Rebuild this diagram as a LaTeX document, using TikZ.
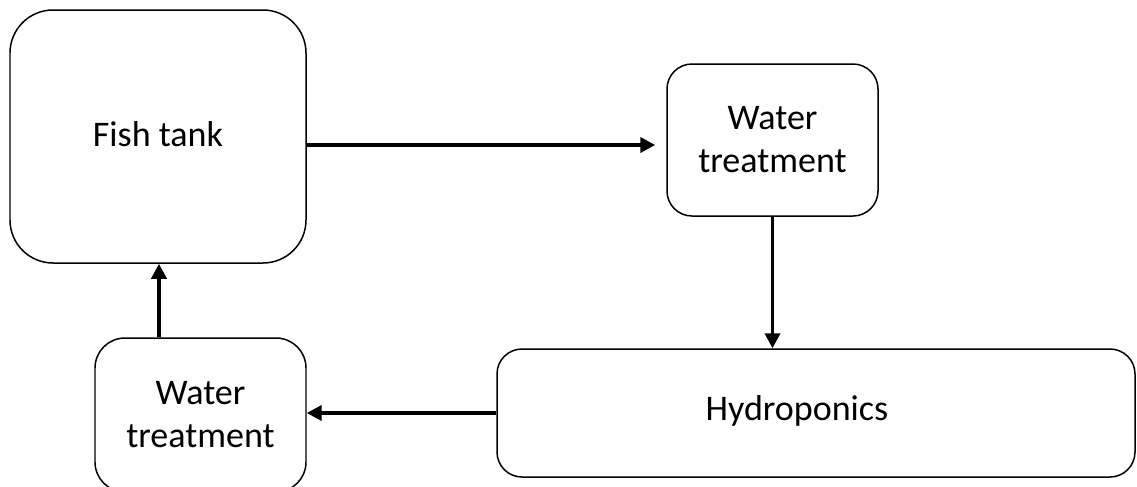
\documentclass[tikz,border=0pt]{standalone}
\usepackage{fontspec}
\setmainfont{Carlito}
\usetikzlibrary{calc, arrows.meta}

\tikzset{
  caja/.style={draw, line width=0.85pt, align=center, font=\fontsize{20.5}{24.5}\selectfont},
  flujo/.style={-{Triangle[length=0.3cm, width=0.3cm]}, line width=2.2pt}
}

\begin{document}
\begin{tikzpicture}
    % Fijar los limites del grafico
    \useasboundingbox (0,0) rectangle (22.74,-9.72);

    % Dibujar las cajas
    \node[caja, rounded corners=0.86cm, minimum width=5.92cm, minimum height=5.06cm] (tanque) at (3.16,-2.73) {\raisebox{0.12cm}{Fish tank}};
    \node[caja, rounded corners=0.5cm, minimum width=4.22cm, minimum height=3.04cm] (trat1) at (15.45,-2.80) {Water\\treatment};
    \node[caja, rounded corners=0.5cm, minimum width=12.76cm, minimum height=2.56cm, label={[font=\fontsize{20.5}{24.5}\selectfont, xshift=-0.38cm, yshift=0.04cm]center:Hydroponics}] (hidro) at (16.32,-8.26) {};
    \node[caja, rounded corners=0.6cm, minimum width=4.22cm, minimum height=3.08cm] (trat2) at (4.01,-8.30) {Water\\treatment};

    % Puntos auxiliares para las flechas
    \coordinate (A1) at ($(trat1.west)+(0,-0.1)$);
    \coordinate (A4) at ($(trat2.north)+(-0.83,0)$);

    % Dibujar las flechas
    \draw[flujo, shorten >=0.22cm] (tanque.east |- A1) -- (A1);
    \draw[flujo] (trat1.south) -- (trat1.south |- hidro.north);
    \draw[flujo] (hidro.west) -- (hidro.west -| trat2.east);
    \draw[flujo] (A4) -- (A4 |- tanque.south);

\end{tikzpicture}
\end{document}
